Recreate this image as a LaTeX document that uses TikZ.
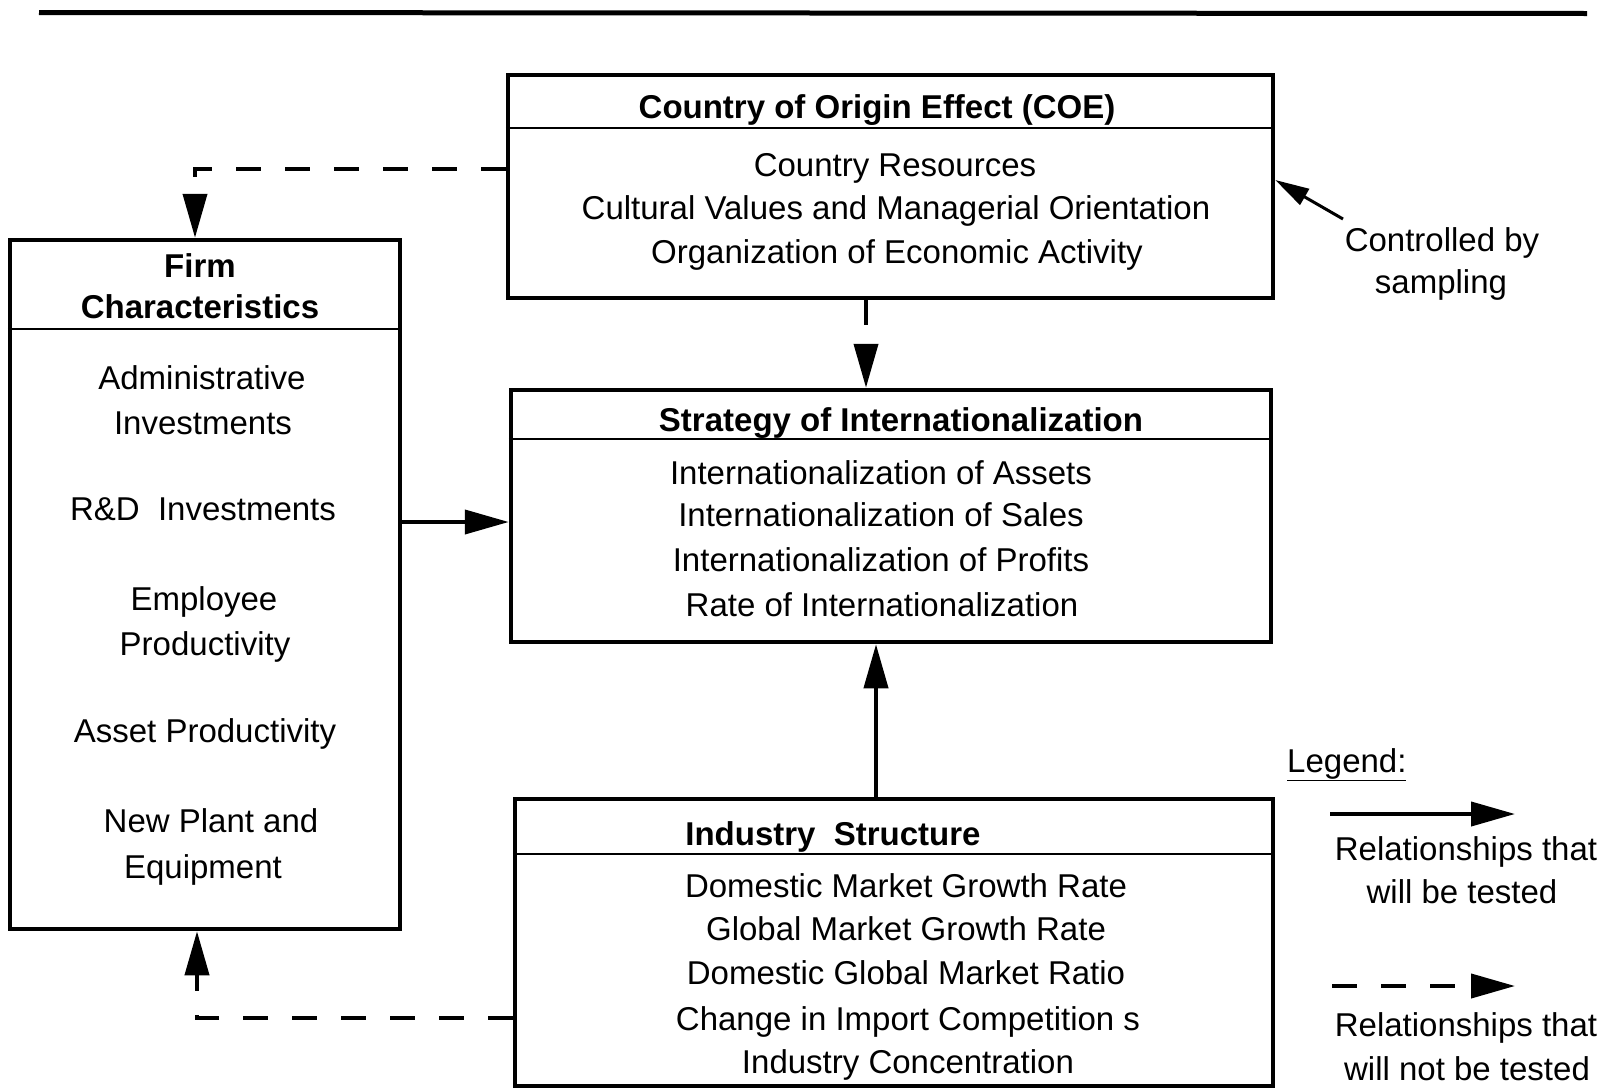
\documentclass[tikz,border=0pt]{standalone}
\usepackage{fontspec}
\setmainfont{Liberation Sans}
\usetikzlibrary{arrows.meta}
\begin{document}
\begin{tikzpicture}[x=1pt,y=-1pt,
  box/.style={draw,line width=4.5pt,inner sep=0pt},
  sepl/.style={line width=2.5pt},
  tx/.style={anchor=base,inner sep=0pt,font=\fontsize{33}{40}\selectfont},
  hd/.style={anchor=base,inner sep=0pt,font=\fontsize{33}{40}\selectfont\bfseries},
  arr/.style={line width=4pt,-{Triangle[length=44pt,width=24pt]}},
  darr/.style={arr,dash pattern=on 25pt off 24pt},
  thinarr/.style={line width=3pt,-{Triangle[length=34pt,width=18pt]}}]
\useasboundingbox (0,0) rectangle (1610,1090);
\fill[white] (0,0) rectangle (1610,1090);

% top rule
\draw[line width=5pt] (39,12.5) -- (1587,13.5);

% boxes
\node[box,minimum width=765pt,minimum height=223pt] (coe) at (890.5,186.5) {};
\node[box,minimum width=390pt,minimum height=689pt] (firm) at (205,584.5) {};
\node[box,minimum width=760pt,minimum height=252pt] (strat) at (891,516) {};
\node[box,minimum width=758pt,minimum height=287pt] (ind) at (894,942.5) {};

% header separators
\draw[sepl] (coe.west |- 0,128) -- (coe.east |- 0,128);
\draw[sepl] (firm.west |- 0,329) -- (firm.east |- 0,329);
\draw[sepl] (strat.west |- 0,439) -- (strat.east |- 0,439);
\draw[sepl] (ind.west |- 0,854) -- (ind.east |- 0,854);

% COE texts
\node[hd] (coeh) at (877,118) {Country of Origin Effect (COE)};
\node[tx] (coe1) at (895,176) {Country Resources};
\node[tx] (coe2) at (896,219) {Cultural Values and Managerial Orientation};
\node[tx] (coe3) at (897,263) {Organization of Economic Activity};

% Firm texts
\node[hd] (firmh1) at (200,277) {Firm};
\node[hd] (firmh2) at (200,318) {Characteristics};
\node[tx] (f1) at (202,389) {Administrative};
\node[tx] (f2) at (203,434) {Investments};
\node[tx] (f3) at (203,520) {R\&D\ \ Investments};
\node[tx] (f4) at (204,610) {Employee};
\node[tx] (f5) at (205,655) {Productivity};
\node[tx] (f6) at (205,742) {Asset Productivity};
\node[tx] (f7) at (211,832) {New Plant and};
\node[tx] (f8) at (203,878) {Equipment};

% Strategy texts
\node[hd] (sh) at (901,431) {Strategy of Internationalization};
\node[tx] (s1) at (881,484) {Internationalization of Assets};
\node[tx] (s2) at (881,526) {Internationalization of Sales};
\node[tx] (s3) at (881,571) {Internationalization of Profits};
\node[tx] (s4) at (882,616) {Rate of Internationalization};

% Industry texts
\node[hd] (ih) at (833,845) {Industry\ \ Structure};
\node[tx] (i1) at (906,897) {Domestic Market Growth Rate};
\node[tx] (i2) at (906,940) {Global Market Growth Rate};
\node[tx] (i3) at (906,984) {Domestic Global Market Ratio};
\node[tx] (i4) at (908,1030) {Change in Import Competition s};
\node[tx] (i5) at (908,1073) {Industry Concentration};

% Controlled by sampling
\node[tx] (c1) at (1442,251) {Controlled by};
\node[tx] (c2) at (1441,293) {sampling};
\coordinate (ctail) at (1343,219);
\draw[thinarr] (ctail) -- (coe.east |- 0,180);

% connectors
\draw[arr] (firm.east |- 0,522) -- (strat.west |- 0,522);
\draw[darr] (coe.south -| 866,0) -- (strat.north -| 866,0);
\draw[arr] (ind.north -| 876,0) -- (strat.south -| 876,0);
\draw[darr] (coe.west |- 0,169) -| (firm.north -| 195,0);
\draw[darr] (ind.west |- 0,1018) -| (firm.south -| 197,0);

% legend
\node[anchor=base west,inner sep=0pt,font=\fontsize{33}{40}\selectfont] (leg) at (1287,772) {\underline{Legend:}};
\coordinate (l1a) at (1330,814);
\coordinate (l1b) at (1515,814);
\draw[arr] (l1a) -- (l1b);
\node[tx] (lt1) at (1466,860) {Relationships that};
\node[tx] (lt2) at (1462,903) {will be tested};
\coordinate (l2a) at (1332,986);
\coordinate (l2b) at (1515,986);
\draw[darr] (l2a) -- (l2b);
\node[tx] (lt3) at (1466,1036) {Relationships that};
\node[tx] (lt4) at (1467,1080) {will not be tested};
\end{tikzpicture}
\end{document}
